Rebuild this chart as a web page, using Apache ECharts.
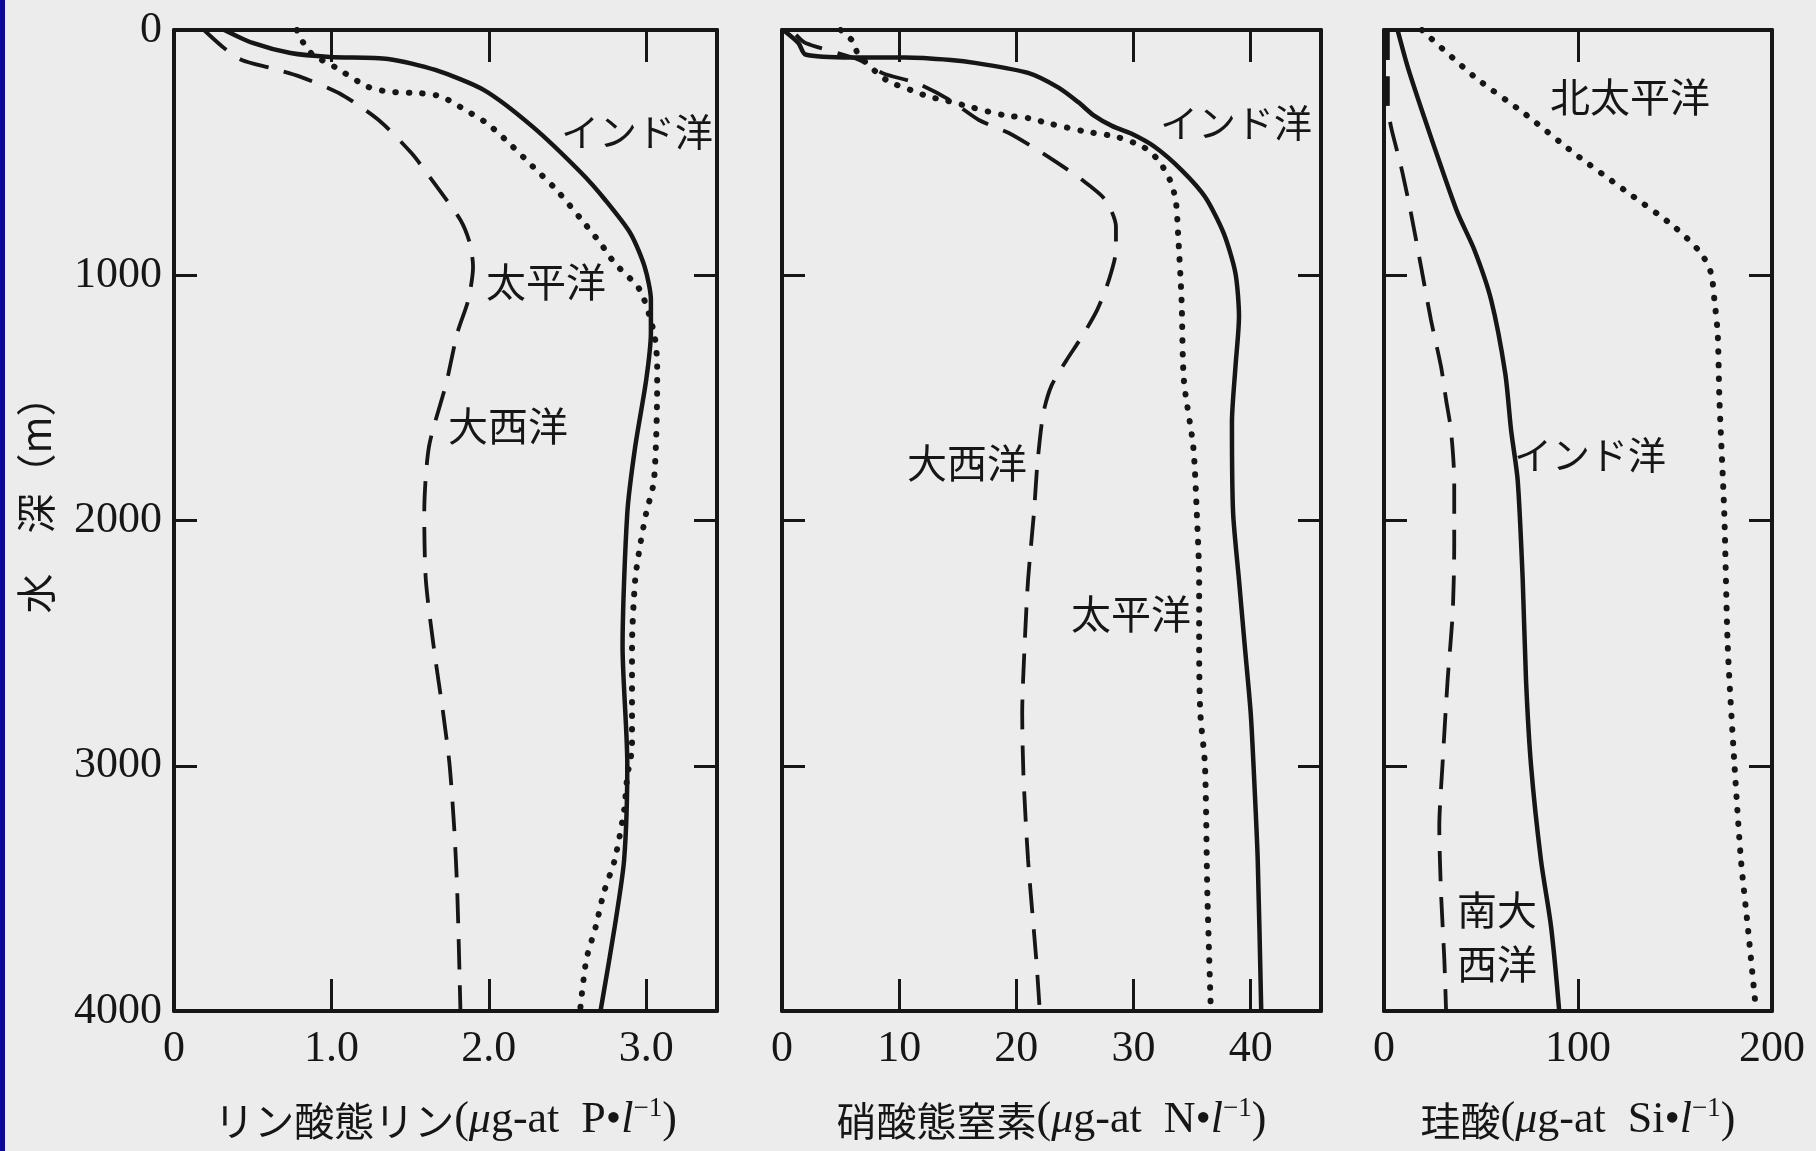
<!DOCTYPE html>
<html><head><meta charset="utf-8">
<script src="https://cdn.jsdelivr.net/npm/echarts@6/dist/echarts.min.js"></script>
<style>html,body{margin:0;padding:0;background:#ececec;}#c{width:1816px;height:1151px;}</style>
</head><body><div id="c"></div>
<script>
// ---- tick labels ----
const depthTicks = ['0', '1000', '2000', '3000', '4000'];
const phosTicks = ['0', '1.0', '2.0', '3.0'];
const nitTicks = ['0', '10', '20', '30', '40'];
const silTicks = ['0', '100', '200'];

// ---- data: [concentration, depth(m)] ----
// Phosphate (µg-at P/l)
const phosIndian = [[0.32,0],[0.50,53],[0.74,94],[0.99,110],[1.36,118],[1.66,163],[1.97,245],[2.28,395],[2.59,584],[2.74,693],[2.90,829],[2.99,965],[3.03,1100],[3.03,1235],[3.00,1427],[2.93,1700],[2.88,1970],[2.85,2515],[2.88,2990],[2.86,3383],[2.80,3657],[2.71,4000]];
const phosPacific = [[0.78,0],[0.82,50],[0.88,100],[1.02,150],[1.23,231],[1.36,251],[1.57,258],[1.70,272],[1.85,326],[1.99,381],[2.13,462],[2.28,557],[2.43,652],[2.59,774],[2.71,870],[2.80,951],[2.96,1060],[3.05,1236],[3.07,1373],[3.07,1430],[3.05,1835],[3.00,1970],[2.96,2107],[2.93,2243],[2.91,2515],[2.91,2922],[2.88,3044],[2.86,3180],[2.80,3384],[2.73,3519],[2.68,3655],[2.62,3790],[2.58,4000]];
const phosAtlantic = [[0.19,0],[0.31,69],[0.43,122],[0.62,156],[0.80,190],[1.05,258],[1.30,367],[1.51,503],[1.67,639],[1.82,775],[1.88,870],[1.90,965],[1.87,1100],[1.80,1236],[1.73,1440],[1.62,1699],[1.59,1970],[1.60,2242],[1.65,2515],[1.71,2785],[1.75,2990],[1.78,3250],[1.80,3520],[1.82,4000]];
// Nitrate (µg-at N/l)
const nitIndian = [[0.1,0],[1.4,53],[2.0,100],[6.0,112],[10.5,112],[14.4,122],[16.6,135],[21.0,175],[23.6,235],[25.3,295],[26.6,348],[28.2,392],[29.8,422],[31.8,476],[34.1,571],[36.1,680],[37.7,829],[38.7,992],[39.0,1169],[38.7,1373],[38.4,1600],[38.5,1970],[39.0,2242],[39.5,2515],[40.0,2785],[40.3,3057],[40.6,3384],[40.9,4000]];
const nitPacific = [[5.0,0],[6.1,49],[6.5,100],[8.9,204],[11.0,245],[12.6,273],[13.8,285],[16.0,313],[18.9,347],[21.1,360],[22.7,380],[25.9,414],[28.5,435],[30.8,476],[32.1,530],[33.1,611],[33.6,693],[33.8,829],[34.1,1100],[34.3,1430],[35.1,1699],[35.4,1970],[35.6,2242],[35.6,2515],[35.7,2785],[36.1,3000],[36.3,3519],[36.6,4000]];
const nitAtlantic = [[1.2,20],[2.0,53],[6.6,122],[8.6,176],[11.5,217],[14.3,285],[16.8,367],[19.4,421],[22.7,516],[25.6,611],[27.6,693],[28.5,802],[28.5,897],[27.9,1019],[26.9,1141],[25.6,1250],[24.3,1345],[23.0,1450],[22.3,1563],[21.8,1767],[21.5,1970],[21.0,2242],[20.7,2515],[20.5,2785],[20.6,3031],[21.0,3384],[21.7,3790],[22.0,4000]];
// Silicate (µg-at Si/l)
const silIndian = [[7.0,0],[12.2,150],[20.6,353],[29.4,557],[38.0,747],[46.6,897],[55.2,1100],[62.5,1400],[65.5,1631],[68.9,1835],[71.5,2242],[73.2,2650],[75.8,3000],[80.9,3384],[86.1,3655],[90.3,4000]];
const silSouthAtlantic = [[2.0,0],[2.0,300],[3.6,394],[8.8,557],[13.9,747],[19.1,965],[24.2,1182],[29.4,1373],[32.0,1508],[34.5,1631],[36.2,1835],[36.2,2107],[35.4,2378],[32.8,2650],[30.2,2990],[28.5,3249],[29.4,3519],[31.1,3790],[32.0,4000]];
const silNorthPacific = [[19.5,0],[46.5,190],[72.3,340],[98.1,503],[123.8,652],[149.6,802],[163.4,910],[168.6,992],[170.3,1100],[172.0,1236],[172.9,1508],[175.4,1970],[177.2,2515],[180.6,2990],[184.0,3384],[187.5,3655],[191.8,4000]];

const INK = '#161616';
const SERIF = "'Liberation Serif', 'Times New Roman', serif";
const CJK = "'Noto Sans CJK JP', sans-serif";

const grids = [
  {left: 174, top: 30, width: 543, height: 981},
  {left: 782, top: 30, width: 539, height: 981},
  {left: 1384, top: 30, width: 388, height: 981}
];

function titleRich() {
  return {
    j: {fontFamily: CJK, fontSize: 40, color: INK},
    l: {fontFamily: SERIF, fontSize: 44, color: INK},
    i: {fontFamily: SERIF, fontSize: 44, fontStyle: 'italic', color: INK},
    s: {fontFamily: SERIF, fontSize: 27, color: INK, padding: [0, 0, 24, 0]}
  };
}

function xAxes(gi, max, interval, ticks, title, showMax) {
  const common = {
    type: 'value', gridIndex: gi, min: 0, max: max, interval: interval,
    splitLine: {show: false},
    axisLine: {show: true, onZero: false, lineStyle: {color: INK, width: 4}},
    axisTick: {show: true, inside: true, length: 32, lineStyle: {color: INK, width: 3}}
  };
  return [
    Object.assign({}, common, {
      position: 'bottom',
      axisLabel: {show: true, margin: 16, fontFamily: SERIF, fontSize: 44, color: INK,
        showMaxLabel: showMax,
        formatter: (v) => {
          const k = v / interval;
          return Math.abs(k - Math.round(k)) < 1e-6 ? (ticks[Math.round(k)] || '') : '';
        }},
      name: title, nameLocation: 'middle', nameGap: 84,
      nameTextStyle: {rich: titleRich()}
    }),
    Object.assign({}, common, {position: 'top', axisLabel: {show: false}})
  ];
}

function yAxes(gi, showLabels) {
  const common = {
    type: 'value', gridIndex: gi, min: 0, max: 4000, interval: 1000, inverse: true,
    splitLine: {show: false},
    axisLine: {show: true, onZero: false, lineStyle: {color: INK, width: 4}},
    axisTick: {show: true, inside: true, length: 23, lineStyle: {color: INK, width: 3}}
  };
  return [
    Object.assign({}, common, {
      position: 'left',
      axisLabel: {show: showLabels, margin: 12, fontFamily: SERIF, fontSize: 44, color: INK,
        formatter: (v) => depthTicks[Math.round(v / 1000)]}
    }),
    Object.assign({}, common, {position: 'right', axisLabel: {show: false}})
  ];
}

const solid = {color: INK, width: 4.5, type: 'solid'};
const dashed = {color: INK, width: 3.8, type: [30, 16]};
const dotted = {color: INK, width: 6, type: [0.5, 13], cap: 'round'};

function line(name, data, xi, yi, style) {
  return {
    name: name, type: 'line', data: data, xAxisIndex: xi, yAxisIndex: yi,
    showSymbol: false, symbol: 'none', smooth: 0.25, silent: true,
    lineStyle: style, z: 3
  };
}

function label(text, x, y, size) {
  return {
    type: 'text', x: x, y: y, silent: true,
    style: {text: text, fontFamily: CJK, fontSize: size || 40, fill: INK,
      textAlign: 'center', textVerticalAlign: 'middle', lineHeight: 54}
  };
}

const option = {
  backgroundColor: '#ececec',
  animation: false,
  grid: grids,
  xAxis: [].concat(
    xAxes(0, 3.45, 1, phosTicks, '{j|リン酸態リン}{l|(}{i|μ}{l|g-at  P•}{i|l}{s|−1}{l|)}', false),
    xAxes(1, 46, 10, nitTicks, '{j|硝酸態窒素}{l|(}{i|μ}{l|g-at  N•}{i|l}{s|−1}{l|)}', false),
    xAxes(2, 200, 100, silTicks, '{j|珪酸}{l|(}{i|μ}{l|g-at  Si•}{i|l}{s|−1}{l|)}', true)
  ),
  yAxis: [].concat(yAxes(0, true), yAxes(1, false), yAxes(2, false)),
  series: [
    line('インド洋', phosIndian, 0, 0, solid),
    line('太平洋', phosPacific, 0, 0, dotted),
    line('大西洋', phosAtlantic, 0, 0, dashed),
    line('インド洋', nitIndian, 2, 2, solid),
    line('太平洋', nitPacific, 2, 2, dotted),
    line('大西洋', nitAtlantic, 2, 2, dashed),
    line('インド洋', silIndian, 4, 4, solid),
    line('南大西洋', silSouthAtlantic, 4, 4, dashed),
    line('北太平洋', silNorthPacific, 4, 4, dotted)
  ],
  graphic: [
    {type: 'rect', shape: {x: 0, y: 0, width: 5, height: 1151}, style: {fill: '#0a0a96'}, silent: true},
    {type: 'text', x: 36, y: 495, rotation: Math.PI / 2, silent: true,
      style: {text: '水　深（m）', fontFamily: CJK, fontSize: 40, fill: INK,
        textAlign: 'center', textVerticalAlign: 'middle'}},
    label('インド洋', 637, 132, 38),
    label('太平洋', 546, 282),
    label('大西洋', 508, 426),
    label('インド洋', 1236, 123, 38),
    label('大西洋', 967, 463),
    label('太平洋', 1131, 614),
    label('北太平洋', 1630, 97),
    label('インド洋', 1590, 455, 38),
    label('南大\n西洋', 1497, 937)
  ]
};

const chart = echarts.init(document.getElementById('c'), null, {renderer: 'canvas'});
chart.setOption(option);
</script>
</body></html>
